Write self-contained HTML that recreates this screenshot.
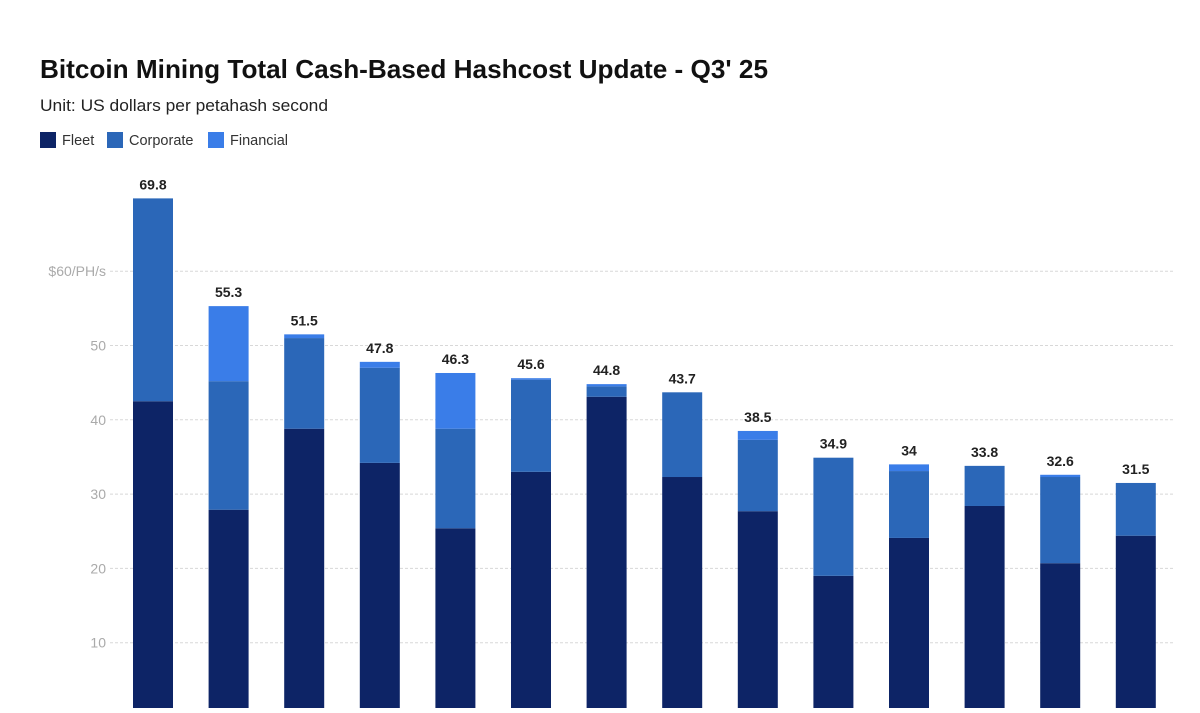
<!DOCTYPE html>
<html><head><meta charset="utf-8"><style>
body{margin:0;background:#fff;width:1200px;height:708px;overflow:hidden;font-family:"Liberation Sans",sans-serif;}
</style></head><body>
<svg id="c" width="1200" height="708" xmlns="http://www.w3.org/2000/svg">
<text x="40" y="78" font-size="26" font-weight="bold" fill="#111" textLength="728" lengthAdjust="spacingAndGlyphs">Bitcoin Mining Total Cash-Based Hashcost Update - Q3' 25</text>
<text x="40" y="111" font-size="17" fill="#222" textLength="288" lengthAdjust="spacingAndGlyphs">Unit: US dollars per petahash second</text>
<g>
<rect x="40" y="132" width="16" height="16" fill="#0d2466"/>
<text x="62" y="145" font-size="14.5" fill="#333">Fleet</text>
<rect x="107" y="132" width="16" height="16" fill="#2b67b8"/>
<text x="129" y="145" font-size="14.5" fill="#333">Corporate</text>
<rect x="208" y="132" width="16" height="16" fill="#3a7de8"/>
<text x="230" y="145" font-size="14.5" fill="#333">Financial</text>
</g>
<g id="grid"></g><g id="bars"></g>
</svg>
<script>
const fleet=[42.5,27.9,38.8,34.2,25.4,33.0,43.1,32.3,27.7,19.0,24.1,28.4,20.7,24.4];
const corporate=[27.3,17.3,12.2,12.8,13.4,12.4,1.4,11.4,9.6,15.9,9.0,5.4,11.6,7.1];
const financial=[0,10.1,0.5,0.8,7.5,0.2,0.3,0,1.2,0,0.9,0,0.3,0];
const totals=["69.8","55.3","51.5","47.8","46.3","45.6","44.8","43.7","38.5","34.9","34","33.8","32.6","31.5"];
const ticks=[10,20,30,40,50,60];
const tickLabels=["10","20","30","40","50","$60/PH/s"];
const NS="http://www.w3.org/2000/svg";
const y=v=>717-v*7.43;
const x=i=>153+i*75.6;
const bw=40;
const grid=document.getElementById('grid'),bars=document.getElementById('bars');
function mk(tag,attrs,parent){const e=document.createElementNS(NS,tag);for(const k in attrs)e.setAttribute(k,attrs[k]);parent.appendChild(e);return e;}
ticks.forEach((t,i)=>{
 const l=mk('line',{x1:110,x2:1175,y1:y(t),y2:y(t),stroke:'#d8d8d8','stroke-width':1,'stroke-dasharray':'3,2'},grid);
 
 
 const tx=mk('text',{x:106,y:y(t)+5,'text-anchor':'end','font-size':14,fill:'#aaa'},grid);
 tx.textContent=tickLabels[i];
 
 
});
fleet.forEach((f,i)=>{
 const c=corporate[i],fi=financial[i],cx=x(i);
 const segs=[[0,f,'#0d2466','fleet'],[f,f+c,'#2b67b8','corporate'],[f+c,f+c+fi,'#3a7de8','financial']];
 segs.forEach(s=>{ if(s[1]<=s[0])return;
  const r=mk('rect',{x:cx-bw/2,y:y(s[1]),width:bw,height:y(s[0])-y(s[1]),fill:s[2]},bars);
  
  
 });
 const tt=mk('text',{x:cx,y:y(f+c+fi)-9,'text-anchor':'middle','font-size':14,'font-weight':'bold',fill:'#222'},bars);
 tt.textContent=totals[i];
 
 
});
</script>
</body></html>
